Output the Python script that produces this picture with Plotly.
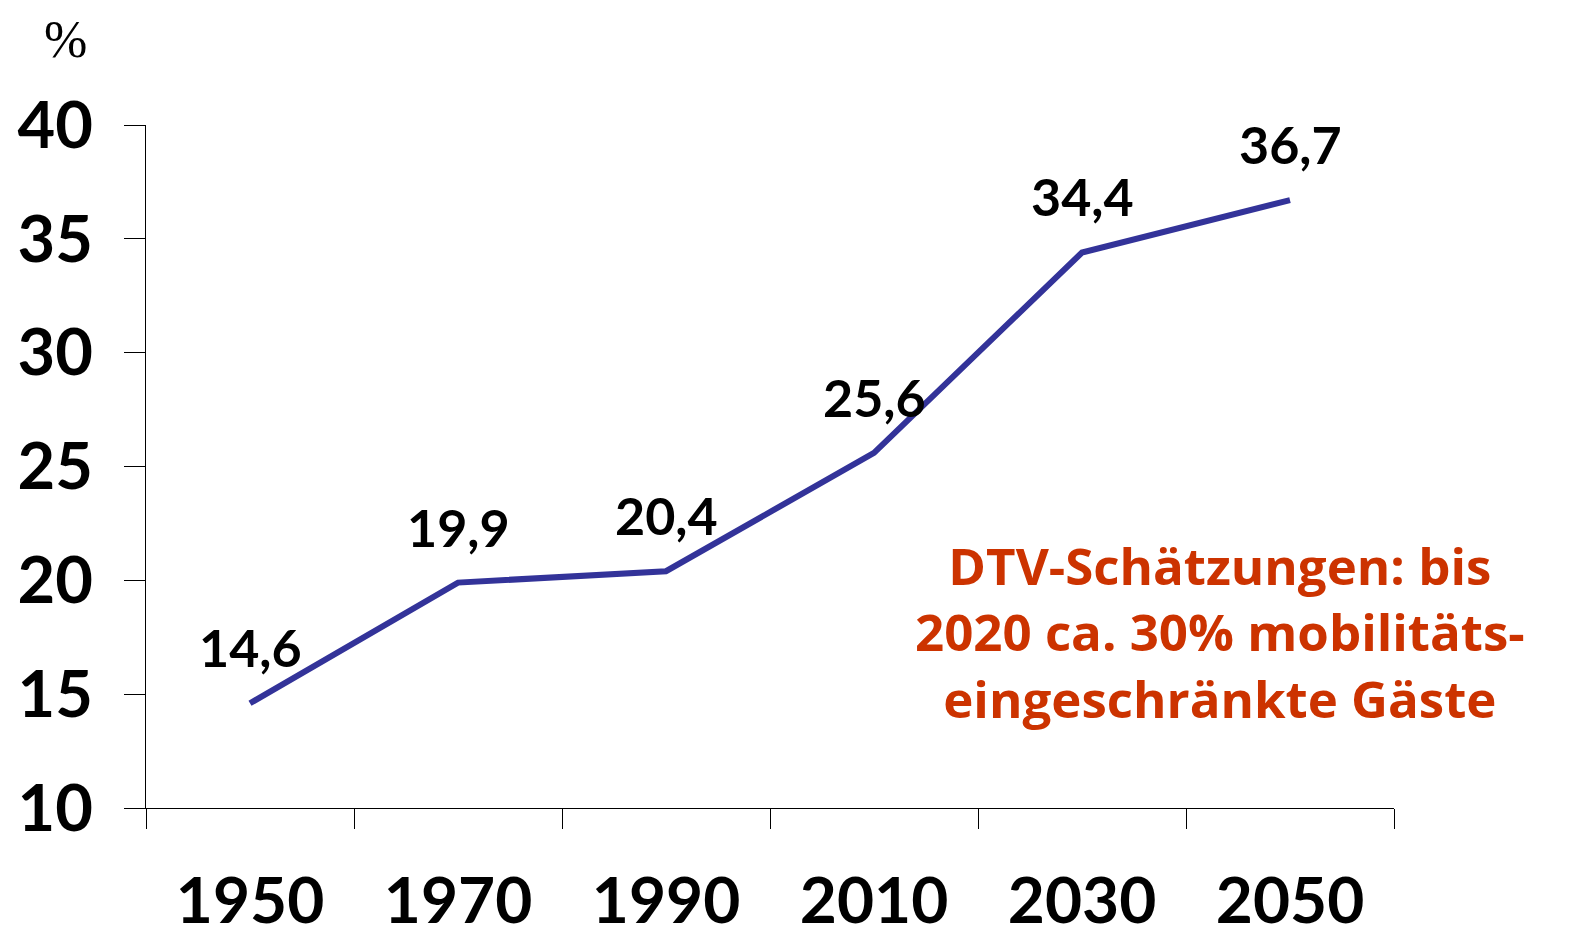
import plotly.graph_objects as go

years = ["1950", "1970", "1990", "2010", "2030", "2050"]
values = [14.6, 19.9, 20.4, 25.6, 34.4, 36.7]
value_labels = ["14,6", "19,9", "20,4", "25,6", "34,4", "36,7"]
y_ticks = [10, 15, 20, 25, 30, 35, 40]
note_text = "DTV-Schätzungen: bis<br>2020 ca. 30% mobilitäts-<br>eingeschränkte Gäste"
unit_text = "%"

LABEL_FONT = "Lato, 'Noto Sans', 'DejaVu Sans', sans-serif"

fig = go.Figure()
fig.add_trace(go.Scatter(
    x=years, y=values, mode="lines",
    line=dict(color="#333399", width=6),
    hoverinfo="skip", showlegend=False,
))

for i, (yv, lab) in enumerate(zip(values, value_labels)):
    fig.add_annotation(x=i, y=yv, text=f"<b>{lab}</b>", showarrow=False,
                       xanchor="center", yanchor="middle",
                       yshift=56, font=dict(family=LABEL_FONT, size=52, color="#000000"))

fig.add_annotation(xref="paper", yref="paper", x=0.8606, y=0.2577,
                   text=f"<b>{note_text}</b>", showarrow=False, align="center",
                   xanchor="center", yanchor="middle",
                   font=dict(family="'Open Sans', sans-serif", size=51, color="#CC3300"))

fig.add_annotation(xref="paper", yref="paper", x=-0.0649, y=(800 - 32) / 683,
                   text=unit_text, showarrow=False, xanchor="center", yanchor="middle",
                   font=dict(family="'Liberation Serif', serif", size=52, color="#000000"))

fig.update_layout(
    width=1568, height=928,
    margin=dict(l=138, r=182, t=117, b=128, autoexpand=False),
    paper_bgcolor="white", plot_bgcolor="white",
    xaxis=dict(
        type="category", showline=True, linecolor="#000000", linewidth=1,
        ticks="outside", ticklen=20, tickcolor="#000000", tickwidth=1,
        tickson="boundaries", showgrid=False, zeroline=False, automargin=False,
        tickfont=dict(family=LABEL_FONT, size=64, color="#000000", weight="bold"),
        range=[-0.5, 5.5], ticklabelstandoff=37,
    ),
    yaxis=dict(
        range=[10, 40], tickvals=y_ticks, showline=True, linecolor="#000000",
        linewidth=1, ticks="outside", ticklen=21, tickcolor="#000000",
        showgrid=False, zeroline=False, ticklabelstandoff=18, automargin=False,
        tickfont=dict(family=LABEL_FONT, size=65, color="#000000", weight="bold"),
    ),
)

fig.write_html("out.html")
